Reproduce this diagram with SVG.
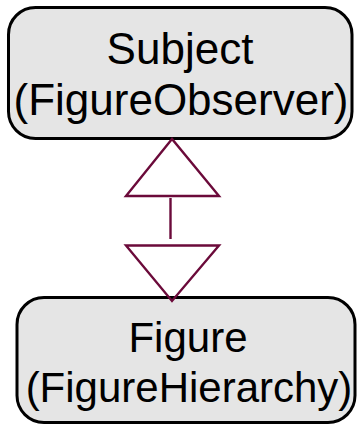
<svg xmlns="http://www.w3.org/2000/svg" width="357" height="425" viewBox="0 0 357 425">
  <style>
    .box { fill: #e5e5e5; stroke: #000; stroke-width: 3; }
    .label { font-family: "Liberation Sans", Arial, sans-serif; font-size: 43px; fill: #000; text-anchor: middle; }
    .link { fill: none; stroke: #6b0a3a; stroke-width: 2.4; }
  </style>
  <rect width="357" height="425" fill="#fff"/>
  <g id="subject">
    <rect class="box" x="8.5" y="7.5" width="343.5" height="131" rx="27" ry="27"/>
    <text class="label" x="180" y="64" style="font-size:44px">Subject</text>
    <text class="label" x="181" y="115" style="font-size:44px">(FigureObserver)</text>
  </g>
  <g id="figure">
    <rect class="box" x="17" y="297.5" width="338" height="125" rx="27" ry="27"/>
    <text class="label" x="188" y="352" style="font-size:42px">Figure</text>
    <text class="label" x="189" y="402" style="font-size:42px">(FigureHierarchy)</text>
  </g>
  <g id="connectors">
    <polygon class="link" points="172,139 126,196 219,196"/>
    <line class="link" x1="170.5" y1="198" x2="170.5" y2="239"/>
    <polygon class="link" points="126,245.5 219,245.5 172,301"/>
  </g>
</svg>
